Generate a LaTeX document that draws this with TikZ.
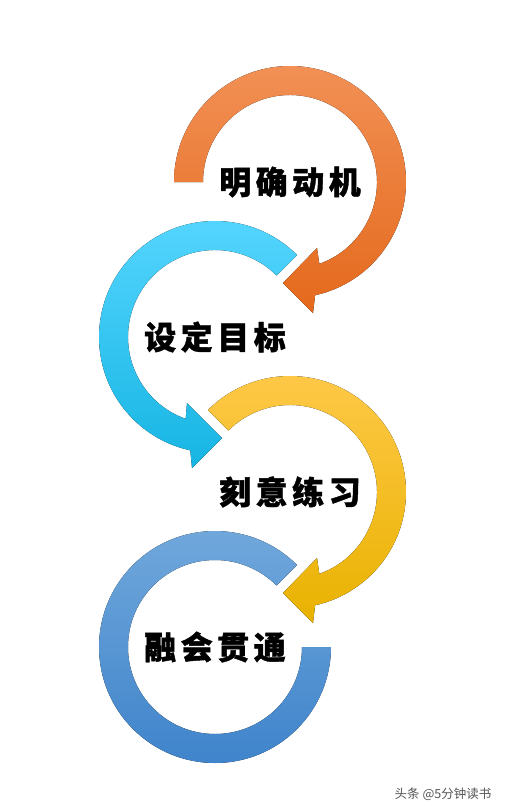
\documentclass[tikz,border=0pt]{standalone}
\usepackage{fontspec}
\newfontfamily\cjk{Noto Sans CJK SC}[BoldFeatures={FakeBold=1.3}]
\newfontfamily\cjkwm{Noto Sans CJK SC}
\usetikzlibrary{calc}
\definecolor{orTop}{HTML}{F29055}
\definecolor{orBot}{HTML}{E4691C}
\definecolor{cyTop}{HTML}{56D6FF}
\definecolor{cyBot}{HTML}{16B5E3}
\definecolor{yeTop}{HTML}{FFC94A}
\definecolor{yeBot}{HTML}{E9B200}
\definecolor{blTop}{HTML}{72A9DC}
\definecolor{blBot}{HTML}{3D82CA}
\definecolor{wmgray}{HTML}{555555}
\tikzset{
  lbl/.style={font=\cjk\bfseries\fontsize{32}{32}\selectfont, text=black, inner sep=0pt},
  wm/.style={font=\cjkwm\fontsize{12.5}{13}\selectfont, text=wmgray, inner sep=0pt}
}
\begin{document}
\begin{tikzpicture}[x=1pt,y=-1pt]
\useasboundingbox (0,0) rectangle (505,811);
\coordinate (O1) at (290,182);
\coordinate (O2) at (215,337);
\coordinate (O3) at (290,492);
\coordinate (O4) at (215,647);
% orange
\fill[top color=orTop,bottom color=orBot]
  ($(O1)+(180:116)$) arc[start angle=180,end angle=437.5,radius=116]
  -- ($(O1)+(23,131)$) -- ($(O1)+(-7,101)$) -- ($(O1)+(27,66)$)
  -- ($(O1)+(70.3:87)$) arc[start angle=430.3,end angle=180,radius=87] -- cycle;
% cyan
\fill[top color=cyTop,bottom color=cyBot]
  ($(O2)+(-45:116)$) arc[start angle=-45,end angle=-257.7,radius=116]
  -- ($(O2)+(-23,131)$) -- ($(O2)+(7,101)$) -- ($(O2)+(-28,66)$)
  -- ($(O2)+(-250.3:87)$) arc[start angle=-250.3,end angle=-45,radius=87] -- cycle;
% yellow
\fill[top color=yeTop,bottom color=yeBot]
  ($(O3)+(225:116)$) arc[start angle=225,end angle=437.5,radius=116]
  -- ($(O3)+(23,131)$) -- ($(O3)+(-7,101)$) -- ($(O3)+(27,66)$)
  -- ($(O3)+(70.3:87)$) arc[start angle=430.3,end angle=225,radius=87] -- cycle;
% blue
\fill[top color=blTop,bottom color=blBot]
  ($(O4)+(-45:116)$) arc[start angle=-45,end angle=-360,radius=116]
  -- ($(O4)+(0:87)$) arc[start angle=-360,end angle=-45,radius=87] -- cycle;
\node[lbl] (t1) at (O1) {明\hspace{4.5pt}确\hspace{4.5pt}动\hspace{4.5pt}机};
\node[lbl] (t2) at (O2) {设\hspace{4.5pt}定\hspace{4.5pt}目\hspace{4.5pt}标};
\node[lbl] (t3) at (O3) {刻\hspace{4.5pt}意\hspace{4.5pt}练\hspace{4.5pt}习};
\node[lbl] (t4) at (O4) {融\hspace{4.5pt}会\hspace{4.5pt}贯\hspace{4.5pt}通};
\node[wm] (wm) at (443,794) {头条 @5分钟读书};
\end{tikzpicture}
\end{document}
